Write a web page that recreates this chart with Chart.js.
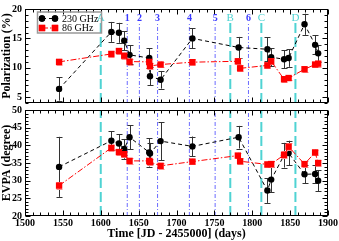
<!DOCTYPE html>
<html>
<head>
<meta charset="utf-8">
<script src="https://cdn.jsdelivr.net/npm/chart.js@4.4.0/dist/chart.umd.min.js"></script>
<style>
  html, body { margin: 0; padding: 0; background: #fff; }
  #wrap { position: relative; width: 339px; height: 241px; overflow: hidden; }
  canvas { position: absolute; left: 0; }
  #topChart { top: 0; }
  #bottomChart { top: 98px; }
</style>
</head>
<body>
<div id="wrap">
  <canvas id="topChart" width="339" height="112"></canvas>
  <canvas id="bottomChart" width="339" height="143"></canvas>
</div>
<script>
// --- data ---
const days230 = [1545, 1614, 1624, 1631, 1638, 1664, 1665, 1679, 1721, 1782, 1820, 1825, 1842, 1848, 1869, 1883, 1887];
const pol230 = [6.4, 16.1, 15.95, 14.6, 12.2, 11.65, 8.55, 7.95, 15.0, 13.45, 13.15, 11.8, 11.45, 11.65, 17.4, 13.9, 12.45];
const pol230Err = [2.0, 1.7, 1.7, 1.6, 1.6, 1.7, 1.5, 1.5, 1.7, 1.8, 2.0, 1.5, 1.5, 1.5, 1.8, 1.6, 1.4];
const evpa230 = [33.9, 41.3, 40.5, 39.0, 42.3, 38.0, 37.7, 41.2, 39.7, 42.3, 27.2, 30.3, 37.2, 37.8, 31.8, 31.9, 30.0];
const evpa230Err = [8.5, 2.7, 2.7, 2.8, 3.4, 4.0, 3.0, 5.4, 2.8, 3.2, 3.5, 3.5, 3.5, 3.5, 2.5, 2.5, 3.0];

const days86 = [1545, 1614, 1624, 1631, 1638, 1664, 1665, 1679, 1721, 1781, 1784, 1820, 1825, 1842, 1848, 1869, 1883, 1887];
const pol86 = [11.0, 12.35, 12.85, 12.05, 11.05, 11.0, 10.3, 10.55, 10.95, 11.1, 9.9, 10.4, 11.1, 8.05, 8.25, 9.75, 10.55, 10.7];
const pol86Err = [0.5, 0.5, 0.5, 0.5, 0.5, 0.5, 0.5, 0.5, 0.5, 0.5, 0.5, 0.5, 0.5, 0.4, 0.4, 0.4, 0.5, 0.5];
const evpa86 = [28.6, 39.3, 38.1, 37.5, 35.6, 35.6, 35.3, 34.2, 35.4, 37.1, 35.5, 34.6, 34.7, 37.3, 39.6, 34.7, 38.0, 35.0];
const evpa86Err = [1.0, 0.8, 0.8, 0.8, 0.8, 0.8, 0.8, 0.8, 0.8, 0.8, 0.8, 0.8, 0.8, 1.0, 1.0, 0.8, 0.8, 0.8];

const flareDays = [1600, 1771, 1812, 1857];
const flareLabels = ["A", "B", "C", "D"];
const eventDays = [1635, 1651, 1675, 1717, 1751, 1795];
const eventLabels = ["1", "2", "3", "4", "5", "6"];

const dayTicks = [1500, 1550, 1600, 1650, 1700, 1750, 1800, 1850, 1900];
const polTicks = [5, 10, 15, 20];
const evpaTicks = [20, 25, 30, 35, 40, 45, 50];

const serif = "'Liberation Serif', 'DejaVu Serif', serif";
const black = "#000000", red = "#ff0000", cyan = "#4fd3d3", blue = "#6b6bff";

// --- helpers ---
function series(xs, ys, errs, color, style, radius, dash, label) {
  return {
    label,
    data: xs.map((d, i) => ({ x: d, y: ys[i] })),
    errs,
    errColor: color === red ? "#ff8a8a" : "#333333",
    borderColor: color,
    backgroundColor: color,
    pointStyle: style,
    pointRadius: radius,
    pointBorderWidth: 0,
    borderWidth: 1,
    borderDash: dash,
    showLine: true,
    fill: false,
    order: 0,
  };
}

function vlines(xs, lo, hi, color, dash, width) {
  return xs.map((d) => ({
    data: [{ x: d, y: lo }, { x: d, y: hi }],
    borderColor: color,
    borderDash: dash,
    borderWidth: width,
    pointRadius: 0,
    showLine: true,
    fill: false,
    order: 5,
  }));
}

// error bars, drawn just before their own markers
const errorBars = {
  id: "errorBars",
  beforeDatasetDraw(chart, args) {
    const ds = chart.data.datasets[args.index];
    if (!ds.errs) return;
    const { ctx, scales: { x, y } } = chart;
    ctx.save();
    ctx.strokeStyle = ds.errColor;
    ctx.lineWidth = 1;
    ctx.beginPath();
    ds.data.forEach((p, i) => {
      const px = Math.round(x.getPixelForValue(p.x)) + 0.5;
      const y1 = y.getPixelForValue(p.y + ds.errs[i]);
      const y2 = y.getPixelForValue(p.y - ds.errs[i]);
      ctx.moveTo(px, y1); ctx.lineTo(px, y2);
      ctx.moveTo(px - 3, Math.round(y1) + 0.5); ctx.lineTo(px + 3, Math.round(y1) + 0.5);
      ctx.moveTo(px - 3, Math.round(y2) + 0.5); ctx.lineTo(px + 3, Math.round(y2) + 0.5);
    });
    ctx.stroke();
    ctx.restore();
  },
};

// box with inward major/minor ticks on all four sides
const frameTicks = {
  id: "frameTicks",
  afterDatasetsDraw(chart) {
    const { ctx, chartArea: a, scales: { x, y } } = chart;
    const L = Math.round(a.left) + 0.5, R = Math.round(a.right) - 0.5;
    const T = Math.round(a.top) + 0.5, B = Math.round(a.bottom) - 0.5;
    ctx.save();
    ctx.strokeStyle = "#000";
    ctx.lineWidth = 1;
    ctx.strokeRect(L, T, R - L, B - T);
    ctx.beginPath();
    for (let v = x.min; v <= x.max; v += 10) {
      const px = Math.round(x.getPixelForValue(v)) + 0.5;
      const len = v % 50 === 0 ? 5 : 3;
      ctx.moveTo(px, B); ctx.lineTo(px, B - len);
      ctx.moveTo(px, T); ctx.lineTo(px, T + len);
    }
    for (let v = Math.ceil(y.min); v <= y.max; v += 1) {
      const py = Math.round(y.getPixelForValue(v)) + 0.5;
      const len = v % 5 === 0 ? 5 : 3;
      ctx.moveTo(L, py); ctx.lineTo(L + len, py);
      ctx.moveTo(R, py); ctx.lineTo(R - len, py);
    }
    ctx.stroke();
    ctx.restore();
  },
};

// event labels and legend in the top panel
const topDecor = {
  id: "topDecor",
  afterDatasetsDraw(chart) {
    const { ctx, scales: { x, y } } = chart;
    ctx.save();
    ctx.textAlign = "center";
    ctx.textBaseline = "middle";
    const ly = y.getPixelForValue(18.4);
    ctx.font = "11px " + serif;
    ctx.fillStyle = cyan;
    flareDays.forEach((d, i) => ctx.fillText(flareLabels[i], x.getPixelForValue(d), ly));
    ctx.font = "bold 10px " + serif;
    ctx.fillStyle = "#3a3aff";
    eventDays.forEach((d, i) => ctx.fillText(eventLabels[i], x.getPixelForValue(d), ly));

    // legend
    ctx.strokeStyle = "#999";
    ctx.lineWidth = 1.5;
    ctx.strokeRect(37.5, 12, 64, 21);
    const rows = [
      { ds: chart.data.datasets[1], y: 18.5, text: "230 GHz" },
      { ds: chart.data.datasets[0], y: 28, text: "86 GHz" },
    ];
    rows.forEach((r) => {
      ctx.strokeStyle = r.ds.borderColor;
      ctx.lineWidth = 1;
      ctx.setLineDash(r.ds.borderDash);
      ctx.beginPath();
      ctx.moveTo(42, r.y); ctx.lineTo(55, r.y);
      ctx.stroke();
      ctx.setLineDash([]);
      ctx.fillStyle = r.ds.backgroundColor;
      [42, 55].forEach((px) => {
        Chart.helpers.drawPoint(ctx, { pointStyle: r.ds.pointStyle, radius: r.ds.pointRadius, borderWidth: 0, rotation: 0 }, px, r.y);
        ctx.fill();
      });
      ctx.fillStyle = "#000";
      ctx.textAlign = "left";
      ctx.font = "10px " + serif;
      ctx.fillText(r.text, 62, r.y + 0.5);
    });
    ctx.restore();
  },
};

function makeScales(yMin, yMax, yTicks, yTitle, showX) {
  return {
    x: {
      type: "linear",
      min: 1500,
      max: 1900,
      afterBuildTicks: (s) => { s.ticks = dayTicks.map((v) => ({ value: v })); },
      afterFit: (s) => { s.height = showX ? 25 : 2; },
      ticks: { display: showX, maxRotation: 0, padding: 1, color: "#000", callback: (v) => String(v), font: { family: serif, size: 10, weight: "bold" } },
      grid: { display: false, drawTicks: false },
      border: { display: false },
      title: { display: showX, text: "Time [JD - 2455000] (days)", color: "#000", padding: 0, font: { family: serif, size: 12, weight: "bold" } },
    },
    y: {
      type: "linear",
      min: yMin,
      max: yMax,
      afterBuildTicks: (s) => { s.ticks = yTicks.map((v) => ({ value: v })); },
      afterFit: (s) => { s.width = 25; },
      ticks: { padding: 3, color: "#000", callback: (v) => String(v), font: { family: serif, size: 10, weight: "bold" } },
      grid: { display: false, drawTicks: false },
      border: { display: false },
      title: { display: true, text: yTitle, color: "#000", padding: 0, font: { family: serif, size: 12, weight: "bold" } },
    },
  };
}

const common = {
  responsive: false,
  animation: false,
  devicePixelRatio: 1,
  events: [],
  plugins: { legend: { display: false }, tooltip: { enabled: false } },
};

new Chart(document.getElementById("topChart"), {
  type: "scatter",
  data: {
    datasets: [
      series(days86, pol86, pol86Err, red, "rect", 4.5, [6, 2, 1.5, 2], "86 GHz"),
      series(days230, pol230, pol230Err, black, "circle", 3.2, [4, 3], "230 GHz"),
      ...vlines(flareDays, 4, 18.0, cyan, [10, 4], 2),
      ...vlines(eventDays, 4, 17.6, blue, [4, 2, 1, 2], 1),
    ],
  },
  options: {
    ...common,
    layout: { autoPadding: false, padding: { top: 4, right: 11, left: 0, bottom: 0 } },
    scales: makeScales(4, 20, polTicks, "Polarization (%)", false),
  },
  plugins: [errorBars, frameTicks, topDecor],
});

new Chart(document.getElementById("bottomChart"), {
  type: "scatter",
  data: {
    datasets: [
      series(days86, evpa86, evpa86Err, red, "rect", 4.5, [6, 2, 1.5, 2], "86 GHz"),
      series(days230, evpa230, evpa230Err, black, "circle", 3.2, [4, 3], "230 GHz"),
      ...vlines(flareDays, 20, 50, cyan, [10, 4], 2),
      ...vlines(eventDays, 20, 50, blue, [4, 2, 1, 2], 1),
    ],
  },
  options: {
    ...common,
    layout: { autoPadding: false, padding: { top: 12, right: 11, left: 0, bottom: 0 } },
    scales: makeScales(20, 50, evpaTicks, "EVPA (degree)", true),
  },
  plugins: [errorBars, frameTicks],
});
</script>
</body>
</html>
